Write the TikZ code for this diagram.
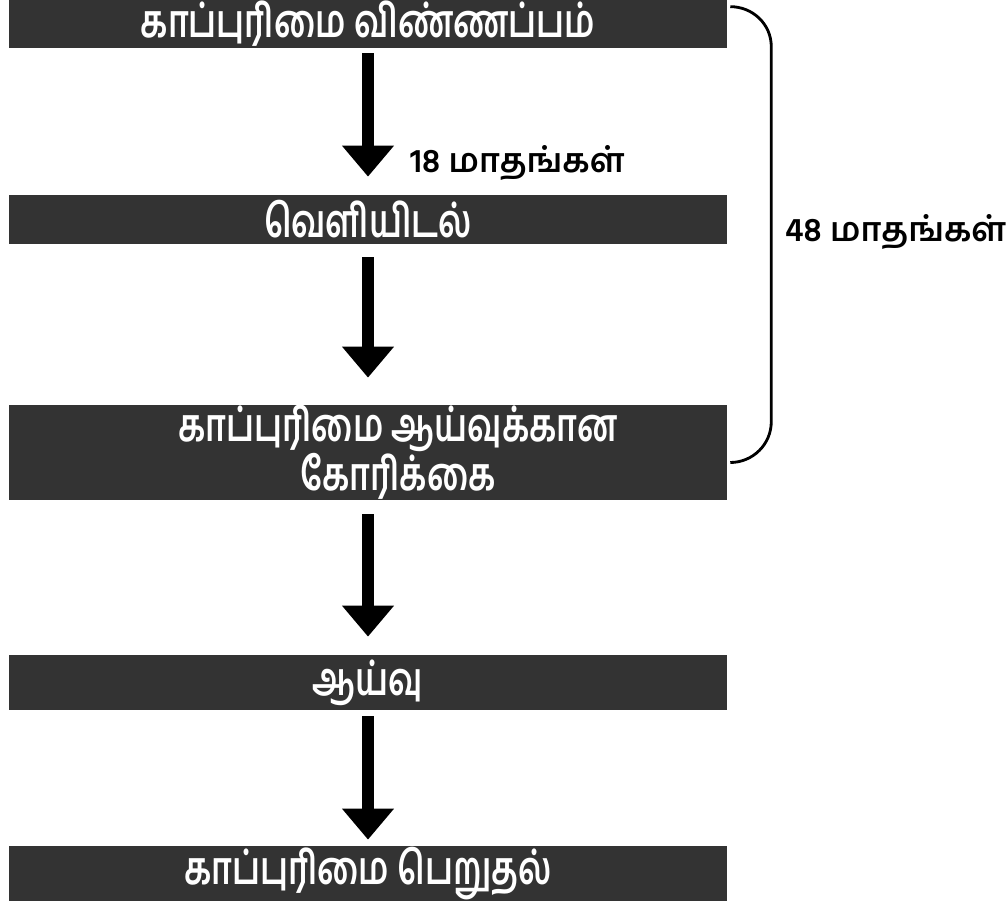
\documentclass[tikz,border=0pt]{standalone}
\usepackage{fontspec}
\usetikzlibrary{arrows.meta}
\newfontfamily\tamil[Script=Tamil]{Hind Madurai}
\newfontfamily\tamilnarrow[Script=Tamil, FakeStretch=0.73]{Hind Madurai}
\definecolor{boxgray}{HTML}{333333}

\begin{document}
\begin{tikzpicture}[x=0.02cm, y=-0.02cm,
  stage/.style={rectangle, fill=boxgray, text=white, inner sep=0pt,
    minimum width=14.36cm, align=center,
    font=\tamilnarrow\bfseries\fontsize{26}{25}\selectfont},
  flow/.style={line width=6.5pt, -{Triangle[length=0.62cm, width=1cm]}},
  months/.style={font=\tamil\bfseries\fontsize{19}{24}\selectfont, anchor=west},
  brace/.style={line width=1.6pt}]

\useasboundingbox (0,0) rectangle (1008,903);

% stages
\node[stage, minimum height=0.96cm] (b1) at (368,24) {காப்புரிமை விண்ணப்பம்};
\node[stage, minimum height=0.98cm] (b2) at (368,219.5) {வெளியிடல்};
\node[stage, minimum height=1.9cm] (b3) at (368,452.5)
     {\hspace*{1.2cm}காப்புரிமை ஆய்வுக்கான\\\hspace*{1.2cm}கோரிக்கை};
\node[stage, minimum height=1.1cm] (b4) at (368,682.5) {ஆய்வு};
\node[stage, minimum height=1.1cm] (b5) at (368,873.5) {காப்புரிமை பெறுதல்};

% arrows between stages
\foreach \a/\b/\s/\e in {b1/b2/5/18, b2/b3/13/27, b3/b4/14/18, b4/b5/6/6}
  \draw[flow] ([shift={(0,\s)}]\a.south) -- ([shift={(0,-\e)}]\b.north);

\node[months] (m18) at (404,163) {18 மாதங்கள்};

% brace over the first three stages
\coordinate (bt) at ([shift={(3,7)}]b1.north east);
\coordinate (bb) at ([shift={(3,10)}]b3.east);
\draw[brace] (bt) to[out=0, in=90] ++(41,40) -- ++(0,375) to[out=-90, in=0] (bb);
\node[months] (m48) at (779,232) {48 மாதங்கள்};
\end{tikzpicture}
\end{document}
